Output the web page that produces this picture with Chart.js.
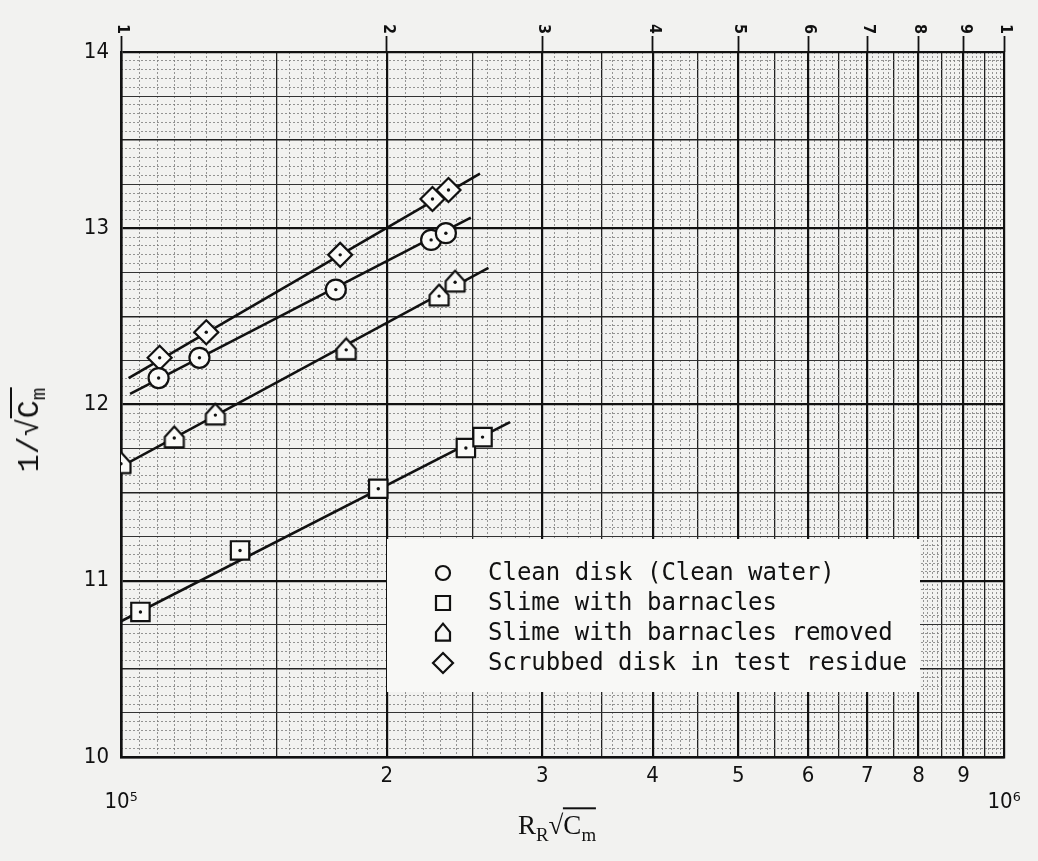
<!DOCTYPE html>
<html>
<head>
<meta charset="utf-8">
<script src="https://cdn.jsdelivr.net/npm/chart.js@4.4.1/dist/chart.umd.min.js"></script>
<style>
  body { margin: 0; background: #f2f2f0; }
  #wrap { position: relative; width: 1038px; height: 861px; }
  .ytitle {
    position: absolute; left: 32px; top: 430px;
    transform: translate(-50%, -50%) rotate(-90deg);
    font: 30px 'Liberation Mono', 'Courier New', monospace; color: #111; white-space: nowrap;
  }
  .xtitle {
    position: absolute; left: 557px; top: 828px;
    transform: translate(-50%, -50%);
    font: 27px 'Liberation Serif', serif; color: #111; white-space: nowrap;
  }
  .ov { border-top: 2px solid #111; padding-top: 1px; }
  sub { font-size: 70%; }
</style>
</head>
<body>
<div id="wrap">
  <canvas id="chart"></canvas>
  <div class="ytitle">1/√<span class="ov">C<sub>m</sub></span></div>
  <div class="xtitle">R<sub>R</sub>√<span class="ov">C<sub>m</sub></span></div>
</div>
<script>
const cleanX = [1.103e5, 1.227e5, 1.751e5, 2.245e5, 2.333e5];
const cleanY = [12.15, 12.265, 12.652, 12.934, 12.972];

const barnX = [1.052e5, 1.364e5, 1.956e5, 2.458e5, 2.567e5];
const barnY = [10.823, 11.172, 11.522, 11.753, 11.815];

const removedX = [1.0e5, 1.149e5, 1.279e5, 1.799e5, 2.292e5, 2.39e5];
const removedY = [11.664, 11.81, 11.94, 12.31, 12.615, 12.694];

const scrubX = [1.106e5, 1.249e5, 1.771e5, 2.253e5, 2.349e5];
const scrubY = [12.265, 12.41, 12.849, 13.166, 13.217];

// faired lines (end points)
const cleanLineX = [1.024e5, 2.49e5];
const cleanLineY = [12.06, 13.06];
const barnLineX = [1.0e5, 2.758e5];
const barnLineY = [10.77, 11.90];
const removedLineX = [1.0e5, 2.607e5];
const removedLineY = [11.647, 12.775];
const scrubLineX = [1.02e5, 2.55e5];
const scrubLineY = [12.15, 13.31];

const legendLabels = [
    'Clean disk (Clean water)',
    'Slime with barnacles',
    'Slime with barnacles removed',
    'Scrubbed disk in test residue'
];

// axis ticks
const xMajorTicks = [1e5, 2e5, 3e5, 4e5, 5e5, 6e5, 7e5, 8e5, 9e5, 1e6];
const xBottomLabels = [['', '10\u2075'], '2', '3', '4', '5', '6', '7', '8', '9', ['', '10\u2076']];
const xTopLabels = ['1', '2', '3', '4', '5', '6', '7', '8', '9', '1'];
const yMajorTicks = [10, 11, 12, 13, 14];

// graph paper rulings
const xHalf = [], xMinor = [];
for (let n = 21; n < 40; n++) {            // 1.05 .. 1.95 by 0.05
    if (n === 30) xHalf.push(1.5e5); else xMinor.push(n / 20 * 1e5);
}
for (let m = 21; m < 100; m++) {           // 2.1 .. 9.9 by 0.1
    if (m % 10 === 0) continue;
    if (m % 5 === 0) xHalf.push(m / 10 * 1e5); else xMinor.push(m / 10 * 1e5);
}
const yHalf = [], yQuarter = [], yMinor = [];
for (let k = 201; k < 280; k++) {          // 10.05 .. 13.95 by 0.05
    if (k % 20 === 0) continue;
    if (k % 10 === 0) yHalf.push(k / 20);
    else if (k % 5 === 0) yQuarter.push(k / 20);
    else yMinor.push(k / 20);
}

const pts = (xs, ys) => xs.map((x, i) => ({ x: x, y: ys[i] }));
const INK = '#111';
const FILL = '#fafaf8';
const tickFont = { family: "'Liberation Sans Narrow', 'DejaVu Sans Condensed', 'Liberation Sans', sans-serif", size: 22 };

// "house" shaped triangle used on the original sheet
function housePath(ctx, x, y, w, h) {
    ctx.moveTo(x, y - h * 0.55);
    ctx.lineTo(x + w / 2, y - h * 0.05);
    ctx.lineTo(x + w / 2, y + h * 0.45);
    ctx.lineTo(x - w / 2, y + h * 0.45);
    ctx.lineTo(x - w / 2, y - h * 0.05);
    ctx.closePath();
}
const houseMarker = document.createElement('canvas');
houseMarker.width = 28;
houseMarker.height = 28;
(() => {
    const c = houseMarker.getContext('2d');
    c.beginPath();
    housePath(c, 14, 14, 19, 21);
    c.fillStyle = FILL;
    c.fill();
    c.lineWidth = 2.2;
    c.lineJoin = 'round';
    c.strokeStyle = INK;
    c.stroke();
})();

function gridAxis(axis, values, color, width, dash) {
    const isX = axis === 'x';
    return {
        type: isX ? 'logarithmic' : 'linear',
        position: isX ? 'bottom' : 'left',
        min: isX ? 1e5 : 10,
        max: isX ? 1e6 : 14,
        afterBuildTicks: s => { s.ticks = values.map(v => ({ value: v })); },
        afterFit: s => { if (isX) s.height = 0; else s.width = 0; },
        ticks: { display: false },
        grid: { color: color, lineWidth: width, drawTicks: false },
        border: { display: false, dash: dash || [] }
    };
}

function markerSet(label, xs, ys, style, radius) {
    return {
        label: label,
        data: pts(xs, ys),
        pointStyle: style,
        pointRadius: radius,
        pointBorderWidth: 2.2,
        pointBorderColor: INK,
        pointBackgroundColor: FILL,
        showLine: false,
        order: 1
    };
}
function dotSet(xs, ys) {
    return { data: pts(xs, ys), pointRadius: 1.7, pointBorderWidth: 0, pointBackgroundColor: INK, showLine: false, order: 0 };
}
function lineSet(xs, ys) {
    return { data: pts(xs, ys), pointRadius: 0, borderColor: INK, borderWidth: 2.6, showLine: true, order: 3 };
}

const legendBox = {
    id: 'legendBox',
    afterDatasetsDraw(chart) {
        const ctx = chart.ctx;
        ctx.save();
        ctx.fillStyle = '#f8f8f6';
        ctx.fillRect(387, 539, 533, 153);
        ctx.strokeStyle = INK;
        ctx.lineWidth = 2.2;
        ctx.fillStyle = INK;
        ctx.font = "24px 'DejaVu Sans Mono', monospace";
        ctx.textBaseline = 'middle';
        legendLabels.forEach((text, i) => {
            const y = 573 + i * 30;
            const x = 443;
            ctx.beginPath();
            if (i === 0) {
                ctx.arc(x, y, 7, 0, Math.PI * 2);
            } else if (i === 1) {
                ctx.rect(x - 7, y - 7, 14, 14);
            } else if (i === 2) {
                housePath(ctx, x, y, 14, 17);
            } else {
                ctx.moveTo(x, y - 10); ctx.lineTo(x + 10, y); ctx.lineTo(x, y + 10); ctx.lineTo(x - 10, y); ctx.closePath();
            }
            ctx.stroke();
            ctx.fillText(text, 488, y + 1);
        });
        ctx.restore();
    }
};

new Chart(document.getElementById('chart').getContext('2d'), {
    type: 'scatter',
    data: {
        datasets: [
            dotSet(cleanX, cleanY),
            dotSet(barnX, barnY),
            dotSet(removedX, removedY),
            dotSet(scrubX, scrubY),
            markerSet(legendLabels[0], cleanX, cleanY, 'circle', 10),
            markerSet(legendLabels[1], barnX, barnY, 'rect', 13),
            markerSet(legendLabels[2], removedX, removedY, houseMarker, 12),
            markerSet(legendLabels[3], scrubX, scrubY, 'rectRot', 12),
            lineSet(cleanLineX, cleanLineY),
            lineSet(barnLineX, barnLineY),
            lineSet(removedLineX, removedLineY),
            lineSet(scrubLineX, scrubLineY)
        ]
    },
    options: {
        responsive: true,
        maintainAspectRatio: false,
        animation: false,
        layout: { padding: { left: 0, right: 34, top: 0, bottom: 0 } },
        plugins: { legend: { display: false }, tooltip: { enabled: false } },
        scales: {
            xMinor: gridAxis('x', xMinor, '#7a7a7a', 0.8, [2, 2]),
            xHalf: gridAxis('x', xHalf, '#222', 1.3),
            yMinor: gridAxis('y', yMinor, '#7a7a7a', 0.8, [2, 2]),
            yQuarter: gridAxis('y', yQuarter, '#333', 1.1),
            yHalf: gridAxis('y', yHalf, '#222', 1.6),
            x: {
                type: 'logarithmic',
                position: 'bottom',
                min: 1e5,
                max: 1e6,
                afterBuildTicks: s => { s.ticks = xMajorTicks.map(v => ({ value: v })); },
                afterFit: s => { s.height = 104; },
                ticks: {
                    autoSkip: false, maxRotation: 0, minRotation: 0, padding: 6,
                    color: INK, font: tickFont, lineHeight: 1.05,
                    callback: (v, i) => xBottomLabels[i]
                },
                grid: { color: INK, lineWidth: 2.2, drawTicks: false },
                border: { display: true, color: INK, width: 2.6 }
            },
            xTop: {
                type: 'logarithmic',
                position: 'top',
                min: 1e5,
                max: 1e6,
                afterBuildTicks: s => { s.ticks = xMajorTicks.map(v => ({ value: v })); },
                afterFit: s => { s.height = 52; },
                ticks: {
                    autoSkip: false, maxRotation: -90, minRotation: -90, padding: 12, labelOffset: -18,
                    color: INK, font: { family: tickFont.family, size: 16, weight: 'bold' },
                    callback: (v, i) => xTopLabels[i]
                },
                grid: { drawOnChartArea: false, drawTicks: true, tickLength: 16, tickWidth: 1.8, tickColor: INK },
                border: { display: false }
            },
            y: {
                type: 'linear',
                position: 'left',
                min: 10,
                max: 14,
                afterBuildTicks: s => { s.ticks = yMajorTicks.map(v => ({ value: v })); },
                afterFit: s => { s.width = 121; },
                ticks: { padding: 12, color: INK, font: tickFont, callback: v => String(v) },
                grid: { color: INK, lineWidth: 2.2, drawTicks: false },
                border: { display: true, color: INK, width: 2.6 }
            }
        }
    },
    plugins: [legendBox]
});
</script>
</body>
</html>
